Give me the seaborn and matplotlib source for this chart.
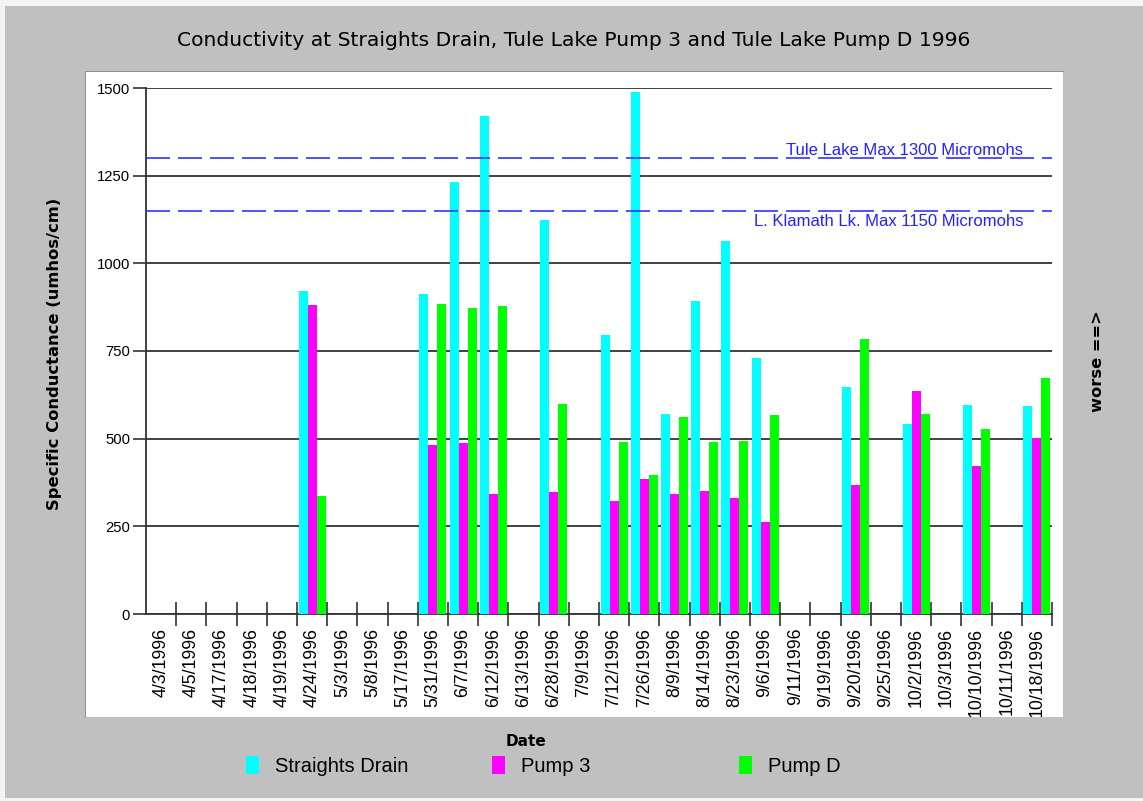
import numpy as np
import pandas as pd
import matplotlib
matplotlib.use("Agg")
import matplotlib.pyplot as plt
import seaborn as sns
from matplotlib.patches import Patch, Rectangle
from matplotlib.lines import Line2D
from matplotlib.transforms import Bbox, TransformedBbox, blended_transform_factory

nan = np.nan

# sample dates (one category each)
dates = ["4/3/1996", "4/5/1996", "4/17/1996", "4/18/1996", "4/19/1996",
         "4/24/1996", "5/3/1996", "5/8/1996", "5/17/1996", "5/31/1996",
         "6/7/1996", "6/12/1996", "6/13/1996", "6/28/1996", "7/9/1996",
         "7/12/1996", "7/26/1996", "8/9/1996", "8/14/1996", "8/23/1996",
         "9/6/1996", "9/11/1996", "9/19/1996", "9/20/1996", "9/25/1996",
         "10/2/1996", "10/3/1996", "10/10/1996", "10/11/1996", "10/18/1996"]

straights_drain = [nan, nan, nan, nan, nan, 920, nan, nan, nan, 913,
                   1232, 1419, nan, 1124, nan, 797, 1489, 571, 894, 1065,
                   731, nan, nan, 646, nan, 542, nan, 597, nan, 593]
pump_3 = [nan, nan, nan, nan, nan, 880, nan, nan, nan, 482,
          487, 341, nan, 349, nan, 323, 386, 341, 352, 330,
          263, nan, nan, 367, nan, 635, nan, 423, nan, 503]
pump_d = [nan, nan, nan, nan, nan, 336, nan, nan, nan, 883,
          873, 877, nan, 598, nan, 490, 395, 563, 490, 494,
          567, nan, nan, 783, nan, 571, nan, 527, nan, 672]

series_names = ["Straights Drain", "Pump 3", "Pump D"]
series_colors = ["#00ffff", "#ff00ff", "#00ff00"]
y_ticks = [0, 250, 500, 750, 1000, 1250, 1500]
tule_max = 1300
klamath_max = 1150

df = pd.DataFrame({"Date": dates,
                   "Straights Drain": straights_drain,
                   "Pump 3": pump_3,
                   "Pump D": pump_d})
df = df.melt(id_vars="Date", var_name="Site", value_name="Conductance").dropna()

sns.set_style("white")
plt.rcParams["font.family"] = ["Liberation Sans", "DejaVu Sans"]
plt.rcParams["text.color"] = "black"
plt.rcParams["xtick.color"] = "black"
plt.rcParams["ytick.color"] = "black"

W, H = 1143, 801
fig = plt.figure(figsize=(W / 100, H / 100), dpi=100, facecolor="#c0c0c0")


def fx(px):
    return px / W


def fy(py):
    return 1 - py / H


# thin light frame round the picture
for r in [(0, fy(6), 1, 1 - fy(6)), (0, 0, fx(5), 1), (0, 0, 1, fy(798))]:
    fig.patches.append(Rectangle(r[:2], r[2], r[3], transform=fig.transFigure,
                                 facecolor="#f4f4f4", edgecolor="none", zorder=-2))

# white chart panel
fig.patches.append(Rectangle((fx(86), fy(717)), fx(1063) - fx(86), fy(72) - fy(717),
                             transform=fig.transFigure, facecolor="white",
                             edgecolor="none", zorder=-1))
fig.add_artist(Line2D([fx(86), fx(1063)], [fy(72), fy(72)], transform=fig.transFigure,
                      color="#888888", lw=1.2, zorder=-1))
fig.add_artist(Line2D([fx(86), fx(86)], [fy(72), fy(717)], transform=fig.transFigure,
                      color="#888888", lw=1.2, zorder=-1))

ax = fig.add_axes([fx(146), fy(614), fx(1052) - fx(146), fy(88) - fy(614)])
ax.set_facecolor("none")
ax.set_zorder(2)

sns.barplot(data=df, x="Date", y="Conductance", hue="Site", order=dates,
            hue_order=series_names, palette=series_colors, width=0.9,
            saturation=1, errorbar=None, linewidth=0, legend=False, ax=ax, zorder=3)

ax.set_xlim(-0.5, len(dates) - 0.5)
ax.set_ylim(0, 1500)
ax.set_yticks(y_ticks)
ax.yaxis.grid(True, color="#333333", lw=1.3)
ax.xaxis.grid(False)
ax.set_axisbelow(True)
for s in ["top", "right"]:
    ax.spines[s].set_visible(False)
for s in ["left", "bottom"]:
    ax.spines[s].set_color("#333333")
    ax.spines[s].set_linewidth(1.3)

ax.set_xticks(np.arange(len(dates)) + 0.5, minor=True)
ax.tick_params(axis="x", which="major", length=0, pad=10, labelrotation=90,
               labelsize=12.8, labelcolor="black")
ax.tick_params(axis="x", which="minor", direction="inout", length=17, width=1.2,
               color="#333333", bottom=True)
ax.tick_params(axis="y", direction="out", length=9.4, width=1.2, color="#333333",
               labelsize=10.7, pad=2, left=True)
ax.set_xlabel("")
ax.set_ylabel("")

# long labels are cut by the panel edge
clip = TransformedBbox(Bbox([[fx(86), fy(717)], [fx(1063), fy(72)]]), fig.transFigure)
for lbl in ax.get_xticklabels():
    lbl.set_clip_box(clip)
    lbl.set_clip_on(True)

# limit lines
for v in (tule_max, klamath_max):
    ax.axhline(v, color="#3333ff", lw=1.2, linestyle=(0, (14.4, 4.8)), zorder=5)
trans = blended_transform_factory(ax.transAxes, ax.transData)
ax.text(0.968, tule_max, "Tule Lake Max 1300 Micromohs", transform=trans,
        ha="right", va="bottom", color="#2222ff", fontsize=12, zorder=6)
ax.text(0.968, klamath_max - 8, "L. Klamath Lk. Max 1150 Micromohs", transform=trans,
        ha="right", va="top", color="#2222ff", fontsize=12, zorder=6)

fig.text(fx(574), fy(41), "Conductivity at Straights Drain, Tule Lake Pump 3 and Tule Lake Pump D 1996",
         ha="center", va="center", fontsize=14.6, family="DejaVu Sans")
fig.text(fx(55), fy(354), "Specific Conductance (umhos/cm)", rotation=90,
         ha="center", va="center", fontsize=11.8, weight="bold", family="DejaVu Sans")
fig.text(fx(526), fy(741), "Date", ha="center", va="center", fontsize=11,
         weight="bold", family="DejaVu Sans")
fig.text(fx(1098), fy(361), "worse ==>", rotation=90, ha="center", va="center",
         fontsize=11.7, weight="bold", family="DejaVu Sans")

# legend, one entry per fixed slot
for name, color, x in zip(series_names, series_colors, [246, 492, 739]):
    fig.legend(handles=[Patch(facecolor=color, edgecolor="none")], labels=[name],
               loc="center left", bbox_to_anchor=(fx(x), fy(766)), frameon=False,
               fontsize=14.5, handlelength=0.65, handleheight=0.95,
               handletextpad=0.8, borderpad=0, borderaxespad=0)

fig.savefig("out.png", dpi=100, facecolor=fig.get_facecolor())
